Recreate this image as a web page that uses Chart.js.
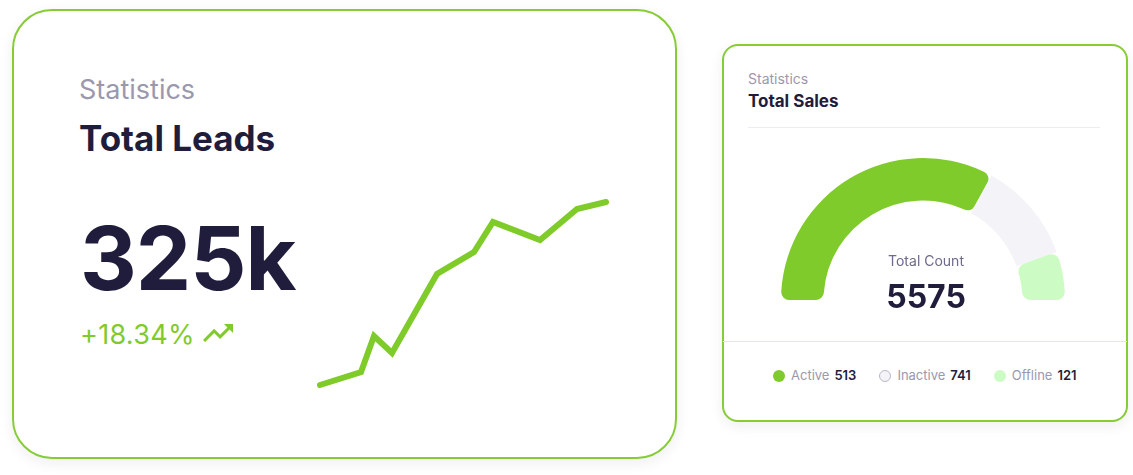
<!DOCTYPE html>
<html>
<head>
<meta charset="utf-8">
<script src="https://cdn.jsdelivr.net/npm/chart.js@4/dist/chart.umd.min.js"></script>
<style>
  html, body { margin: 0; padding: 0; background: #fff; }
  body { width: 1133px; height: 475px; position: relative; overflow: hidden; font-family: Inter, "Liberation Sans", sans-serif; }
  .card { position: absolute; box-sizing: border-box; border: 2px solid #86cc35; background: #fff; box-shadow: 0 4px 14px rgba(30, 30, 60, 0.07); }
  .t { position: absolute; line-height: 1; white-space: nowrap; }
  #leftCard { left: 12px; top: 9px; width: 665px; height: 450px; border-radius: 40px; }
  #rightCard { left: 722px; top: 44px; width: 406px; height: 378px; border-radius: 16px; }
  .legend { position: absolute; left: 773px; top: 369px; display: flex; align-items: center; font-size: 13px; line-height: 1; }
  .legend .item { display: flex; align-items: center; margin-right: 23px; }
  .legend .dot { width: 12px; height: 12px; border-radius: 50%; box-sizing: border-box; margin-right: 6px; }
  .legend .lab { color: #9b98ae; margin-right: 5px; }
  .legend .num { color: #1f1d3b; font-weight: 600; }
</style>
</head>
<body>
<div class="card" id="leftCard"></div>
<div class="card" id="rightCard"></div>

<div class="t" style="left:79px; top:76px; font-size:27px; color:#9b98ae;">Statistics</div>
<div class="t" style="left:79px; top:121px; font-size:35px; font-weight:700; color:#1f1d3b;">Total Leads</div>
<div class="t" style="left:80px; top:214px; font-size:88px; font-weight:700; color:#1f1d3b; letter-spacing:-1px;">325k</div>
<div class="t" style="left:80px; top:321px; font-size:27px; color:#80cb2c; letter-spacing:0.3px;">+18.34%</div>
<svg style="position:absolute; left:200px; top:315px;" width="36" height="36" viewBox="0 0 24 24">
  <path d="M16 6l2.29 2.29-4.88 4.88-4-4L2 16.59 3.41 18l6-6 4 4 6.3-6.29L22 12V6z" fill="#80cb2c"/>
</svg>

<div style="position:absolute; left:316px; top:198px; width:294px; height:191px;">
  <canvas id="grafica"></canvas>
</div>

<div class="t" style="left:748px; top:72px; font-size:14px; color:#9b98ae;">Statistics</div>
<div class="t" style="left:748px; top:93px; font-size:17px; font-weight:700; color:#1f1d3b;">Total Sales</div>
<div style="position:absolute; left:748px; top:127px; width:352px; height:1px; background:#ececf2;"></div>

<div style="position:absolute; left:781px; top:158px; width:284px; height:142px;">
  <canvas id="gauge"></canvas>
</div>
<div class="t" style="left:826px; width:200px; text-align:center; top:254px; font-size:14px; color:#6e6a8a;">Total Count</div>
<div class="t" style="left:826px; width:200px; text-align:center; top:281px; font-size:32px; font-weight:700; color:#1f1d3b;">5575</div>

<div style="position:absolute; left:723px; top:341px; width:404px; height:1px; background:#e6e6ee;"></div>
<div class="legend" id="leyenda"></div>

<script>
// linea de leads (posiciones x irregulares)
const diasLeads = [0, 41, 54, 72, 117, 154, 173, 220, 257, 286];
const leads = [15, 28, 64, 47, 126, 148, 178, 160, 191, 198];

// gauge de ventas
const estados = ['Active', 'Inactive', 'Offline'];
const gaugeValores = [66, 23, 11];
const conteos = [513, 741, 121];
const colores = ['#80cb2c', '#f4f4f8', '#ccfcc4'];
const bordesLeyenda = ['#80cb2c', '#b8b6c8', '#ccfcc4'];

function dibujarLinea() {
    const ctx = document.getElementById('grafica').getContext('2d');
    new Chart(ctx, {
        type: 'line',
        data: {
            datasets: [{
                data: diasLeads.map((d, i) => ({ x: d, y: leads[i] })),
                borderColor: '#7ecb2a',
                borderWidth: 6,
                borderCapStyle: 'round',
                borderJoinStyle: 'miter',
                pointRadius: 0,
                tension: 0,
                fill: false,
                clip: false
            }]
        },
        options: {
            responsive: true,
            maintainAspectRatio: false,
            animation: false,
            layout: { padding: 4 },
            plugins: { legend: { display: false }, tooltip: { enabled: false } },
            scales: {
                x: { type: 'linear', display: false, min: Math.min(...diasLeads), max: Math.max(...diasLeads) },
                y: { display: false, min: Math.min(...leads), max: Math.max(...leads) }
            }
        }
    });
}

function dibujarGauge() {
    const ctx = document.getElementById('gauge').getContext('2d');
    new Chart(ctx, {
        type: 'doughnut',
        data: {
            labels: estados,
            datasets: [{
                data: gaugeValores,
                backgroundColor: colores,
                borderWidth: 0,
                borderRadius: c => c.dataIndex === 1 ? 0 : 8
            }]
        },
        options: {
            responsive: true,
            maintainAspectRatio: false,
            animation: false,
            rotation: -90,
            circumference: 180,
            cutout: '70%',
            layout: { padding: 0 },
            plugins: { legend: { display: false }, tooltip: { enabled: false } }
        }
    });
}

function dibujarLeyenda() {
    const cont = document.getElementById('leyenda');
    estados.forEach((e, i) => {
        const item = document.createElement('div');
        item.className = 'item';
        const hueco = i === 1;
        item.innerHTML = '<span class="dot" style="background:' + colores[i] + ';' +
            (hueco ? 'border:1.5px solid ' + bordesLeyenda[i] + ';' : '') + '"></span>' +
            '<span class="lab">' + e + '</span><span class="num">' + conteos[i] + '</span>';
        cont.appendChild(item);
    });
}

dibujarLinea();
dibujarGauge();
dibujarLeyenda();
</script>
</body>
</html>
